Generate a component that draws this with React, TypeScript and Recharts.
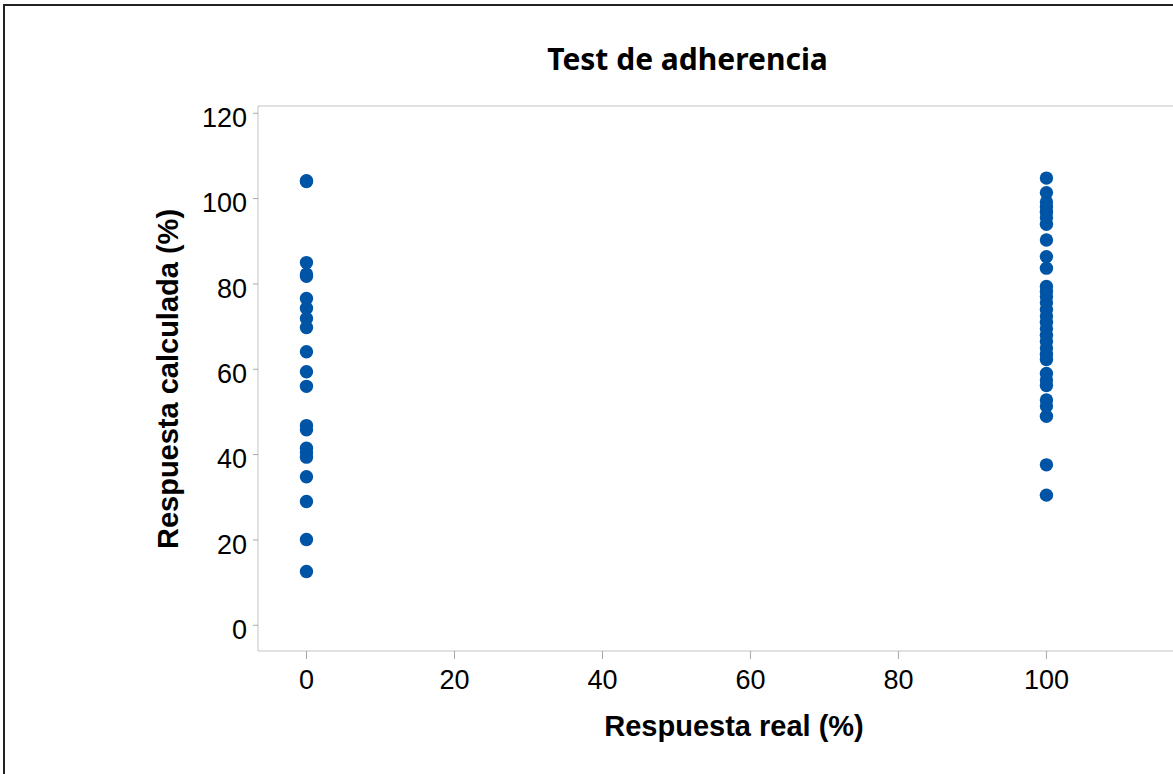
import React from "react";
import { ScatterChart, Scatter, XAxis, YAxis } from "recharts";

const chartTitle = "Test de adherencia";
const xLabel = "Respuesta real (%)";
const yLabel = "Respuesta calculada (%)";

const xTicks = [0, 20, 40, 60, 80, 100];
const yTicks = [0, 20, 40, 60, 80, 100, 120];

// Respuesta real = 0
const calcAtZero = [
  104.2, 104.0, 85.0, 82.3, 81.8, 76.6, 74.3, 71.9, 69.8, 64.1, 59.4, 56.0,
  46.8, 45.8, 41.5, 40.5, 39.4, 34.8, 29.0, 20.1, 12.6,
];

// Respuesta real = 100
const calcAtHundred = [
  104.8, 101.4, 99.2, 98.0, 96.8, 95.5, 94.0, 90.3, 86.4, 83.7, 79.4, 78.2,
  77.0, 75.6, 74.0, 72.5, 71.0, 69.5, 68.0, 66.5, 65.0, 63.5, 62.3, 59.0,
  57.5, 56.2, 52.8, 51.4, 49.0, 37.6, 30.5,
];

const data = [
  ...calcAtZero.map((y) => ({ real: 0, calc: y })),
  ...calcAtHundred.map((y) => ({ real: 100, calc: y })),
];

const BLUE = "#0054A6";
const AXIS = "#c4c4c4";
const TICK = "#a8a8a8";
const FONT = "Liberation Sans, Arial, sans-serif";

const Dot = (props: any) => {
  const { cx, cy } = props;
  if (cx == null || cy == null) return null;
  return <circle cx={cx} cy={cy} r={6.7} fill={BLUE} />;
};

const YTick = (props: any) => {
  const { x, y, payload } = props;
  return (
    <text
      x={x}
      y={y + 4}
      dy="0.355em"
      textAnchor="end"
      fill="#000"
      fontSize={27}
      fontFamily={FONT}
    >
      {payload.value}
    </text>
  );
};

export default function App() {
  return (
    <div
      style={{
        position: "fixed",
        left: 0,
        top: 0,
        width: 1173,
        height: 774,
        overflow: "hidden",
        background: "#fff",
      }}
    >
      <div
        style={{
          position: "absolute",
          left: 3,
          top: 4,
          width: 1400,
          height: 1000,
          borderLeft: "2px solid #222",
          borderTop: "2px solid #222",
        }}
      />
      <div style={{ position: "absolute", left: 0, top: 0 }}>
        <ScatterChart
          width={1190}
          height={774}
          margin={{ top: 106, right: 10, bottom: 63, left: 158 }}
        >
          <XAxis
            type="number"
            dataKey="real"
            domain={[-6.55, 118.05]}
            ticks={xTicks}
            allowDataOverflow
            height={60}
            stroke={AXIS}
            tickSize={8}
            tickMargin={11}
            tickLine={{ stroke: TICK }}
            tick={{ fill: "#000", fontSize: 27, fontFamily: FONT }}
          />
          <YAxis
            type="number"
            dataKey="calc"
            domain={[-6.03, 121.7]}
            ticks={yTicks}
            allowDataOverflow
            width={100}
            stroke={AXIS}
            tickSize={5}
            tickMargin={6}
            tickLine={{ stroke: TICK }}
            tick={<YTick />}
          />
          <Scatter data={data} shape={<Dot />} isAnimationActive={false} />
          <line x1={258} y1={106} x2={1190} y2={106} stroke={AXIS} strokeWidth={1} />
        </ScatterChart>
      </div>
      <svg
        width={1173}
        height={774}
        style={{ position: "absolute", left: 0, top: 0, pointerEvents: "none" }}
      >
        <text
          x={687.5}
          y={69.5}
          textAnchor="middle"
          fontFamily="Noto Sans, Open Sans, sans-serif"
          fontWeight="bold"
          fontSize={30}
          fill="#000"
        >
          {chartTitle}
        </text>
        <text
          x={734}
          y={736}
          textAnchor="middle"
          fontFamily={FONT}
          fontWeight="bold"
          fontSize={29}
          fill="#000"
        >
          {xLabel}
        </text>
        <text
          transform="translate(178,379) rotate(-90)"
          textAnchor="middle"
          fontFamily={FONT}
          fontWeight="bold"
          fontSize={29}
          fill="#000"
        >
          {yLabel}
        </text>
      </svg>
    </div>
  );
}
